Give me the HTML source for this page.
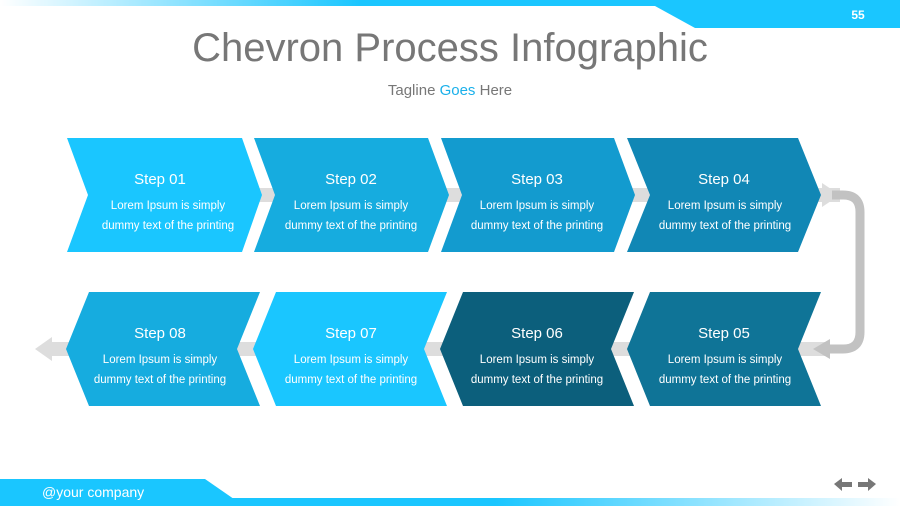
<!DOCTYPE html>
<html><head><meta charset="utf-8"><style>
html,body{margin:0;padding:0;}
body{width:900px;height:506px;position:relative;overflow:hidden;background:#fff;font-family:"Liberation Sans",sans-serif;}
.t{position:absolute;width:100%;text-align:center;}
</style></head><body>
<svg width="900" height="506" style="position:absolute;left:0;top:0">
<defs>
<linearGradient id="tg" x1="0" x2="1"><stop offset="0" stop-color="#fff"/><stop offset="0.4" stop-color="#1ac6ff"/><stop offset="1" stop-color="#1ac6ff"/></linearGradient>
<linearGradient id="bg" x1="0" x2="1"><stop offset="0" stop-color="#1ac6ff"/><stop offset="0.55" stop-color="#1ac6ff"/><stop offset="1" stop-color="#fff"/></linearGradient>
</defs>
<rect x="0" y="0" width="900" height="6" fill="url(#tg)"/>
<polygon points="655,0 900,0 900,28 695,28 655,6" fill="#1ac6ff"/>
<text x="858" y="19" font-size="12" font-weight="bold" fill="#fff" text-anchor="middle" font-family="Liberation Sans">55</text>
<rect x="0" y="498" width="900" height="8" fill="url(#bg)"/>
<polygon points="0,479 205,479 244,506 0,506" fill="#1ac6ff"/>
<text x="42" y="497" font-size="14" fill="#fff" font-family="Liberation Sans">@your company</text>
<polygon points="834,484 842,478 842,482 852,482 852,487 842,487 842,491" fill="#777"/>
<polygon points="876,484 868,478 868,482 858,482 858,487 868,487 868,491" fill="#777"/>
<!-- connectors -->
<rect x="240" y="188" width="600" height="14" fill="#ddd"/>
<polygon points="822,183 840,195 822,207" fill="#ddd"/>
<rect x="50" y="342" width="780" height="14" fill="#ddd"/>
<polygon points="52,337 35,349 52,361" fill="#ddd"/>
<path d="M832,195 H843 Q860,195 860,212 V332 Q860,349 843,349 H828" fill="none" stroke="#c2c2c2" stroke-width="9"/>
<polygon points="830,339 813,349 830,359" fill="#c2c2c2"/>
<!-- top row -->
<g>
<polygon points="67,138 242,138 262,195 242,252 67,252 88,195" fill="#1ac6ff"/>
<polygon points="254,138 428,138 449,195 428,252 254,252 275,195" fill="#16acdf"/>
<polygon points="441,138 614,138 635,195 614,252 441,252 462,195" fill="#139bcf"/>
<polygon points="627,138 798,138 821,195 798,252 627,252 650,195" fill="#1187b5"/>
</g>
<g>
<polygon points="650,292 821,292 798,349 821,406 650,406 627,349" fill="#0f7497"/>
<polygon points="463,292 634,292 611,349 634,406 463,406 440,349" fill="#0c5f7c"/>
<polygon points="276,292 447,292 424,349 447,406 276,406 253,349" fill="#1ac6ff"/>
<polygon points="89,292 260,292 237,349 260,406 89,406 66,349" fill="#16acdf"/>
</g>
<g font-family="Liberation Sans" fill="#fff" text-anchor="middle">
<g font-size="15"><text x="160" y="184">Step 01</text><text x="351" y="184">Step 02</text><text x="537" y="184">Step 03</text><text x="724" y="184">Step 04</text>
<text x="160" y="338">Step 08</text><text x="351" y="338">Step 07</text><text x="537" y="338">Step 06</text><text x="724" y="338">Step 05</text></g>
<g font-size="11.5">
<text x="168" y="209">Lorem Ipsum is simply</text><text x="168" y="229">dummy text of the printing</text>
<text x="351" y="209">Lorem Ipsum is simply</text><text x="351" y="229">dummy text of the printing</text>
<text x="537" y="209">Lorem Ipsum is simply</text><text x="537" y="229">dummy text of the printing</text>
<text x="725" y="209">Lorem Ipsum is simply</text><text x="725" y="229">dummy text of the printing</text>
<text x="160" y="363">Lorem Ipsum is simply</text><text x="160" y="383">dummy text of the printing</text>
<text x="351" y="363">Lorem Ipsum is simply</text><text x="351" y="383">dummy text of the printing</text>
<text x="537" y="363">Lorem Ipsum is simply</text><text x="537" y="383">dummy text of the printing</text>
<text x="725" y="363">Lorem Ipsum is simply</text><text x="725" y="383">dummy text of the printing</text>
</g></g>
</svg>
<div class="t" style="top:26px;font-size:40px;color:#777;">Chevron Process Infographic</div>
<div class="t" style="top:82px;font-size:15px;color:#777;">Tagline <span style="color:#1ab0ea">Goes</span> Here</div>
</body></html>
